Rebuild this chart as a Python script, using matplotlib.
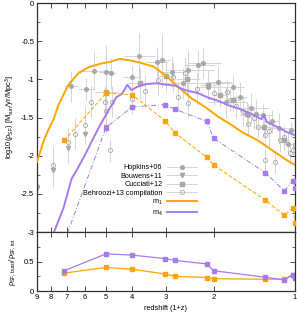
import numpy as np
import matplotlib
matplotlib.use("Agg")
import matplotlib.pyplot as plt
from matplotlib.lines import Line2D
from matplotlib.ticker import FixedLocator, NullLocator, MultipleLocator, FormatStrFormatter

plt.rcParams["font.family"] = ["Liberation Sans", "DejaVu Sans"]
plt.rcParams["mathtext.default"] = "regular"
plt.rcParams["axes.unicode_minus"] = False

# model m1 total SFRD (1+z, log10 rho)
m1_v = [9.0, 8.53, 8.17, 7.83, 7.51, 6.89, 6.33, 5.81, 5.19, 4.83, 4.44, 4.08, 3.74,
        3.34, 2.98, 2.70, 2.41, 2.15, 1.92, 1.71, 1.57, 1.37, 1.19, 1.07, 1.0]
m1_y = [-2.08, -1.82, -1.66, -1.53, -1.34, -1.07, -0.92, -0.84, -0.79, -0.77, -0.73, -0.75, -0.78,
        -0.83, -0.96, -1.10, -1.25, -1.36, -1.49, -1.60, -1.69, -1.80, -1.95, -2.06, -2.12]

# model m4 total SFRD
m4_v = [8.0, 7.79, 7.19, 6.70, 6.42, 5.98, 5.57, 5.26, 4.83, 4.57, 4.37, 4.25, 4.17, 4.02, 3.85,
        3.54, 3.25, 2.98, 2.78, 2.55, 2.28, 2.09, 1.92, 1.76, 1.62, 1.45, 1.33, 1.30, 1.27,
        1.15, 1.07, 1.0]
m4_y = [-3.15, -3.0, -2.69, -2.30, -2.19, -1.99, -1.77, -1.60, -1.37, -1.23, -1.19, -1.12, -1.07,
        -1.14, -1.10, -1.06, -1.05, -1.07, -1.08, -1.14, -1.18, -1.24, -1.28, -1.34, -1.38, -1.45,
        -1.52, -1.47, -1.56, -1.63, -1.69, -1.73]

# burst SFRD at snapshots
snap_v = [7.15, 5.0, 4.0, 3.03, 2.78, 2.12, 2.0, 1.29, 1.095, 1.015, 1.0]
m1_burst = [-1.80, -1.18, -1.20, -1.54, -1.70, -2.02, -2.12, -2.58, -2.78, -2.68, -2.88]
m4_burst = [-3.14, -1.63, -1.36, -1.33, -1.39, -1.55, -1.77, -2.22, -2.46, -2.33, -2.42]
m1_frac = [0.305, 0.40, 0.37, 0.29, 0.25, 0.23, 0.21, 0.20, 0.20, 0.28, 0.22]
m4_frac = [0.345, 0.63, 0.61, 0.55, 0.52, 0.46, 0.345, 0.235, 0.19, 0.28, 0.22]

# observations
hop_v = [6.75, 5.53, 5.95, 5.0, 4.79, 4.02, 3.78, 3.25, 3.09, 2.86, 2.49, 2.28, 2.18, 2.09,
         1.92, 1.69, 1.60, 1.49, 1.39, 1.31, 1.15, 1.06, 1.03, 2.6, 1.8, 1.45, 1.22]
hop_y = [-1.09, -0.89, -1.13, -0.90, -0.92, -0.97, -0.69, -0.77, -0.75, -0.90, -0.88, -0.81,
         -0.79, -1.10, -1.03, -1.10, -1.23, -1.47, -1.45, -1.47, -1.64, -1.84, -1.66,
         -1.05, -1.30, -1.38, -1.55]
hop_yerr = [0.2, 0.25, 0.15, 0.35, 0.2, 0.15, 0.3, 0.2, 0.35, 0.2, 0.25, 0.2, 0.2, 0.15,
            0.2, 0.15, 0.2, 0.15, 0.2, 0.15, 0.2, 0.15, 0.1, 0.2, 0.2, 0.2, 0.15]
hop_xerr = [0.4, 0.8, 0.4, 0.3, 0.2, 0.3, 0.5, 0.3, 0.2, 0.3, 0.5, 0.3, 0.3, 0.25,
            0.2, 0.15, 0.1, 0.1, 0.1, 0.1, 0.1, 0.05, 0.03, 0.9, 0.3, 0.2, 0.08]

bou_v = [9.0, 7.83, 6.9, 5.98, 5.0]
bou_y = [-2.42, -2.19, -1.90, -1.71, -1.62]
bou_yerr = [0.2, 0.22, 0.2, 0.15, 0.1]

cuc_v = [1.1, 1.3, 1.5, 1.7, 1.9, 2.1, 2.5, 3.0, 3.75, 5.0]
cuc_y = [-1.80, -1.62, -1.45, -1.27, -1.20, -1.07, -1.00, -0.95, -1.05, -1.17]
cuc_yerr = [0.12, 0.12, 0.15, 0.15, 0.15, 0.2, 0.2, 0.2, 0.2, 0.25]
cuc_xerr = [0.05, 0.1, 0.1, 0.1, 0.1, 0.15, 0.25, 0.25, 0.4, 0.5]

beh_v = [9.0, 7.83, 6.9, 5.98, 6.51, 5.70, 4.83, 5.05, 4.76, 4.0, 2.70, 2.48, 1.89, 1.74,
         1.49, 1.37, 1.29, 1.14, 1.19, 1.04, 1.0, 1.29, 3.22, 2.82, 2.55, 1.79, 5.0, 3.6,
         2.3, 2.0, 1.65, 1.55, 1.42, 1.25, 1.1, 1.02]
beh_y = [-2.39, -2.12, -1.82, -1.60, -1.71, -1.29, -1.93, -1.29, -1.29, -1.25, -1.23, -1.31,
         -1.21, -1.27, -1.58, -1.62, -1.73, -1.80, -2.08, -1.97, -1.86, -2.06, -1.01, -0.97,
         -0.92, -1.16, -1.42, -1.15, -1.12, -1.18, -1.35, -1.42, -1.50, -1.68, -1.75, -1.92]
beh_yerr = [0.2, 0.25, 0.2, 0.25, 0.2, 0.2, 0.15, 0.2, 0.2, 0.2, 0.2, 0.2, 0.15, 0.15,
            0.15, 0.15, 0.15, 0.15, 0.15, 0.15, 0.1, 0.15, 0.2, 0.2, 0.2, 0.15, 0.2, 0.2,
            0.2, 0.15, 0.15, 0.2, 0.15, 0.2, 0.15, 0.1]

ORANGE = "#ffa500"
PURPLE = "#a77af4"
MK = "#a8a8a8"
EB = "#d4d4d4"
SPINE = "#303030"

fig = plt.figure(figsize=(2.97, 3.14), dpi=100)
ax = fig.add_axes([0.1246, 0.261, 0.8684, 0.729])
ax2 = fig.add_axes([0.1246, 0.073, 0.8684, 0.188])

ekw = dict(ecolor=EB, elinewidth=0.7, capsize=0, linestyle="none", zorder=1)
ax.errorbar(beh_v, beh_y, yerr=beh_yerr, marker="o", ms=3, mfc="none", mec=MK, mew=0.6, **ekw)
ax.errorbar(hop_v, hop_y, yerr=hop_yerr, xerr=hop_xerr, marker="o", ms=2.6, mfc=MK, mec=MK, **ekw)
ax.errorbar(bou_v, bou_y, yerr=bou_yerr, marker="v", ms=3, mfc=MK, mec=MK, **ekw)
ax.errorbar(cuc_v, cuc_y, yerr=cuc_yerr, xerr=cuc_xerr, marker="s", ms=2.4, mfc=MK, mec=MK, **ekw)

ax.plot(m1_v, m1_y, color=ORANGE, lw=1.4, zorder=3)
ax.plot(m4_v, m4_y, color=PURPLE, lw=1.4, zorder=3)
ax.plot(snap_v, m1_burst, color=ORANGE, lw=0.7, ls=(0, (4, 2)), marker="s", ms=2.6, zorder=3)
ax.plot(snap_v, m4_burst, color=PURPLE, lw=0.7, ls=(0, (5, 2, 1, 2)), marker="s", ms=2.6, zorder=3)

ax2.plot(snap_v, m1_frac, color=ORANGE, lw=0.9, marker="s", ms=2.6)
ax2.plot(snap_v, m4_frac, color=PURPLE, lw=0.9, marker="s", ms=2.6)

for a in (ax, ax2):
    a.set_xscale("log")
    a.set_xlim(9, 1)
    a.xaxis.set_major_locator(FixedLocator([1, 2, 3, 4, 5, 6, 7, 8, 9]))
    a.xaxis.set_minor_locator(NullLocator())
    a.tick_params(which="both", direction="in", top=True, right=True, labelsize=5.5,
                  color=SPINE, pad=2)
    a.tick_params(which="major", length=3.5, width=0.6)
    a.tick_params(which="minor", length=2, width=0.5)
    for s in a.spines.values():
        s.set_color(SPINE)
        s.set_linewidth(0.9)

ax.set_ylim(-3, 0)
ax.yaxis.set_major_locator(MultipleLocator(0.5))
ax.yaxis.set_minor_locator(MultipleLocator(0.25))
ax.yaxis.set_major_formatter(FormatStrFormatter("%g"))
ax.tick_params(labelbottom=False)
ax.set_ylabel(r"log10($\rho_{SF}$) [M$_{sun}$/yr/Mpc$^3$]", fontsize=5.3, labelpad=3)

ax2.set_ylim(0, 1)
ax2.yaxis.set_major_locator(FixedLocator([0, 0.5]))
ax2.yaxis.set_minor_locator(FixedLocator([0.25, 0.75]))
ax2.yaxis.set_major_formatter(FormatStrFormatter("%g"))
ax2.xaxis.set_major_formatter(FormatStrFormatter("%d"))
ax2.set_xlabel("redshift (1+z)", fontsize=5.3, labelpad=3)
ax2.set_ylabel(r"$\rho_{SF,burst}/\rho_{SF,tot}$", fontsize=5.3, labelpad=4)

handles = [
    Line2D([], [], color=EB, lw=0.7, marker="o", ms=2.6, mfc=MK, mec=MK),
    Line2D([], [], color=EB, lw=0.7, marker="v", ms=3, mfc=MK, mec=MK),
    Line2D([], [], color=EB, lw=0.7, marker="s", ms=2.4, mfc=MK, mec=MK),
    Line2D([], [], color=EB, lw=0.7, marker="o", ms=3, mfc="none", mec=MK, mew=0.6),
    Line2D([], [], color=ORANGE, lw=1.4),
    Line2D([], [], color=PURPLE, lw=1.4),
]
labels = ["Hopkins+06", "Bouwens+11", "Cucciati+12", "Behroozi+13 compilation",
          r"m$_1$", r"m$_4$"]
ax.legend(handles, labels, loc="upper right", bbox_to_anchor=(197 / 297, 1 - 164 / 314),
          bbox_transform=fig.transFigure, markerfirst=False, frameon=False, fontsize=5.2,
          handlelength=4.2, handletextpad=0.6, labelspacing=0.2, borderpad=0, borderaxespad=0)

fig.savefig("out.png", dpi=100)
